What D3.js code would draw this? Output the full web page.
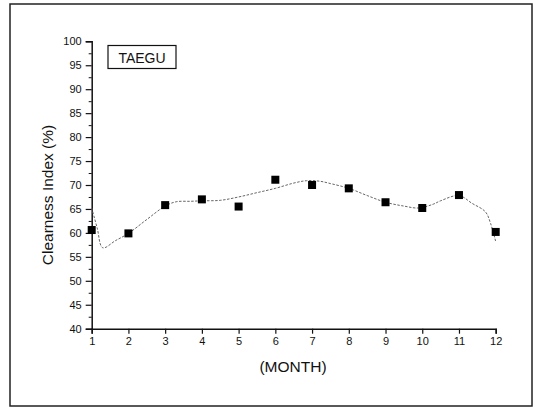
<!DOCTYPE html>
<html>
<head>
<meta charset="utf-8">
<script src="https://cdn.jsdelivr.net/npm/d3@7"></script>
<style>
  html, body { margin: 0; padding: 0; background: #fff; }
  svg { display: block; font-family: "Liberation Sans", Arial, sans-serif; }
</style>
</head>
<body>
<svg id="chart" width="535" height="408"></svg>
<script>
// Monthly measured clearness index (%)
const months = [1, 2, 3, 4, 5, 6, 7, 8, 9, 10, 11, 12];
const measured = [60.6, 59.9, 65.8, 67.0, 65.5, 71.1, 70.0, 69.3, 66.4, 65.2, 67.9, 60.2];

// Fitted curve (month, value)
const fitMonths = [1.0, 1.15, 1.3, 1.65, 2.0, 2.5, 3.0, 3.3, 3.7, 4.0, 4.5, 5.0, 5.5, 6.0, 6.5, 6.85, 7.2, 7.5, 8.0, 8.5, 9.0, 9.5, 9.9, 10.3, 10.5, 11.0, 11.35, 11.72, 11.86, 12.0];
const fitValues = [65.2, 61.0, 56.9, 58.4, 59.9, 62.8, 65.6, 66.5, 66.6, 66.7, 66.8, 67.5, 68.4, 69.3, 70.4, 70.9, 70.8, 70.3, 69.3, 67.8, 66.4, 65.6, 65.2, 66.0, 66.7, 67.8, 66.2, 64.4, 62.0, 58.2];

const yMajorTicks = [40, 45, 50, 55, 60, 65, 70, 75, 80, 85, 90, 95, 100];
const yMinorTicks = d3.range(42.5, 100, 5);
const xTicks = months;

const stationName = "TAEGU";
const xTitle = "(MONTH)";
const yTitle = "Clearness Index (%)";

const svg = d3.select("#chart");

// outer frame
svg.append("rect")
  .attr("x", 10).attr("y", 4)
  .attr("width", 522).attr("height", 402)
  .attr("fill", "none").attr("stroke", "#222").attr("stroke-width", 1.5);

const x = d3.scaleLinear().domain([1, 12]).range([91.7, 495.7]);
const y = d3.scaleLinear().domain([40, 100]).range([328.7, 41.3]);

// y axis: major ticks with labels
const yAxis = svg.append("g")
  .attr("transform", `translate(${x(1)},0)`)
  .call(d3.axisLeft(y).tickValues(yMajorTicks).tickSize(6).tickPadding(4).tickFormat(d3.format("d")));
yAxis.select(".domain").attr("stroke", "#111").attr("stroke-width", 1.5);
yAxis.selectAll(".tick line").attr("stroke", "#111").attr("stroke-width", 1.2);
yAxis.selectAll(".tick text").attr("font-size", 11).attr("fill", "#111")
  .attr("font-family", "Liberation Sans, Arial, sans-serif");

// y axis: minor ticks
svg.append("g")
  .attr("transform", `translate(${x(1)},0)`)
  .call(d3.axisLeft(y).tickValues(yMinorTicks).tickSize(3).tickFormat(""))
  .call(g => g.select(".domain").remove())
  .selectAll(".tick line").attr("stroke", "#111").attr("stroke-width", 1);

// x axis
const xAxis = svg.append("g")
  .attr("transform", `translate(0,${y(40)})`)
  .call(d3.axisBottom(x).tickValues(xTicks).tickSize(5).tickPadding(4).tickFormat(d3.format("d")));
xAxis.select(".domain").attr("stroke", "#111").attr("stroke-width", 1.5);
xAxis.selectAll(".tick line").attr("stroke", "#111").attr("stroke-width", 1.2);
xAxis.selectAll(".tick text").attr("font-size", 11).attr("fill", "#111")
  .attr("font-family", "Liberation Sans, Arial, sans-serif");

// axis titles
svg.append("text")
  .attr("x", 293).attr("y", 372)
  .attr("text-anchor", "middle")
  .attr("font-size", 15.5).attr("fill", "#111")
  .text(xTitle);

svg.append("text")
  .attr("transform", `translate(53,195) rotate(-90)`)
  .attr("text-anchor", "middle")
  .attr("font-size", 15.5).attr("fill", "#111")
  .text(yTitle);

// station label box
svg.append("rect")
  .attr("x", 108).attr("y", 45.5)
  .attr("width", 68).attr("height", 23)
  .attr("fill", "#fff").attr("stroke", "#111").attr("stroke-width", 1.2);
svg.append("text")
  .attr("x", 142).attr("y", 62.5)
  .attr("text-anchor", "middle")
  .attr("font-size", 14).attr("fill", "#111")
  .text(stationName);

// fitted curve
const fitData = fitMonths.map((m, i) => [m, fitValues[i]]);
svg.append("path")
  .datum(fitData)
  .attr("fill", "none")
  .attr("stroke", "#666")
  .attr("stroke-width", 1)
  .attr("stroke-dasharray", "2.5,1.5")
  .attr("d", d3.line().x(d => x(d[0])).y(d => y(d[1])).curve(d3.curveCatmullRom.alpha(0.5)));

// measured points
const sq = 8;
svg.append("g").selectAll("rect")
  .data(months.map((m, i) => [m, measured[i]]))
  .join("rect")
  .attr("x", d => x(d[0]) - sq / 2)
  .attr("y", d => y(d[1]) - sq / 2)
  .attr("width", sq).attr("height", sq)
  .attr("fill", "#000");
</script>
</body>
</html>
